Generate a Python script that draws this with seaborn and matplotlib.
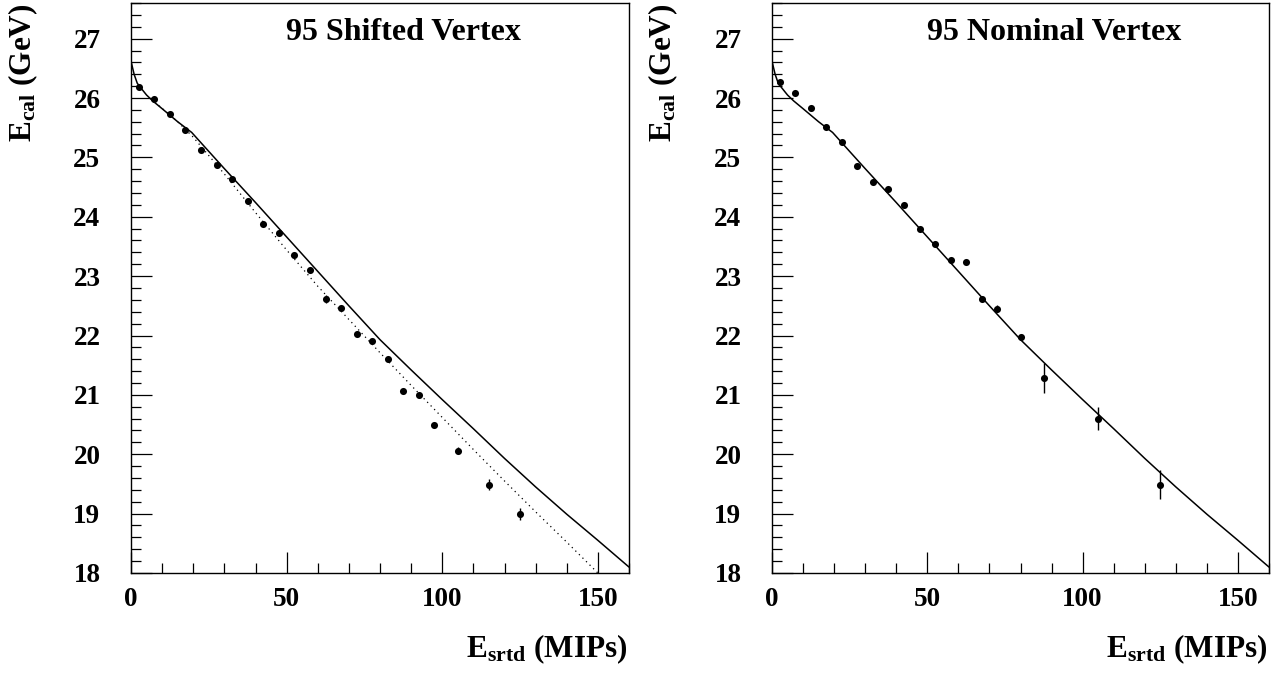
import numpy as np
import pandas as pd
import matplotlib
matplotlib.use("Agg")
import matplotlib.pyplot as plt
import seaborn as sns
from matplotlib.ticker import MultipleLocator

# ==============================================================================
# DADOS
# ==============================================================================
# painel esquerdo: 95 Shifted Vertex
shift_x = [2.5, 7.5, 12.5, 17.5, 22.5, 27.5, 32.5, 37.5, 42.5, 47.5, 52.5, 57.5,
           62.5, 67.5, 72.5, 77.5, 82.5, 87.5, 92.5, 97.5, 105, 115, 125]
shift_y = [26.18, 25.99, 25.73, 25.46, 25.13, 24.88, 24.64, 24.27, 23.88, 23.72, 23.35, 23.11,
           22.62, 22.46, 22.02, 21.91, 21.61, 21.06, 20.99, 20.49, 20.06, 19.49, 18.99]
shift_err = [0.03, 0.03, 0.03, 0.03, 0.03, 0.03, 0.03, 0.03, 0.03, 0.03, 0.03, 0.03,
             0.07, 0.03, 0.03, 0.03, 0.03, 0.04, 0.04, 0.04, 0.06, 0.1, 0.1]

# painel direito: 95 Nominal Vertex
nom_x = [2.5, 7.5, 12.5, 17.5, 22.5, 27.5, 32.5, 37.5, 42.5, 47.5, 52.5, 57.5,
         62.5, 67.5, 72.5, 80, 87.5, 105, 125]
nom_y = [26.27, 26.09, 25.84, 25.51, 25.26, 24.85, 24.59, 24.47, 24.19, 23.80, 23.54, 23.27,
         23.23, 22.62, 22.45, 21.98, 21.28, 20.60, 19.49]
nom_err = [0.03, 0.03, 0.03, 0.03, 0.03, 0.03, 0.03, 0.03, 0.03, 0.03, 0.03, 0.03,
           0.03, 0.04, 0.06, 0.04, 0.25, 0.2, 0.25]

# curva contínua (mesma nos dois painéis)
fit_x = [0, 1, 2, 3, 5, 7, 10, 15, 19.5, 25, 30, 40, 50, 60, 70, 80, 90, 100,
         110, 120, 130, 140, 150, 160]
fit_y = [26.62, 26.40, 26.25, 26.18, 26.05, 25.95, 25.82, 25.60, 25.42, 25.10, 24.81, 24.24,
         23.66, 23.08, 22.50, 21.93, 21.42, 20.92, 20.43, 19.93, 19.45, 18.99, 18.55, 18.10]

# curva pontilhada (apenas painel esquerdo)
dot_x = [9, 15, 20, 30, 40, 50, 60, 70, 80, 90, 100, 110, 120, 130, 140, 150]
dot_y = [25.87, 25.60, 25.34, 24.72, 24.07, 23.44, 22.83, 22.27, 21.71, 21.16, 20.62,
         20.08, 19.55, 19.03, 18.52, 18.00]

titulos = ["95 Shifted Vertex", "95 Nominal Vertex"]

# ==============================================================================
# ESTILO
# ==============================================================================
sns.set_style("white")
plt.rcParams['font.family'] = ['Liberation Serif', 'DejaVu Serif']
plt.rcParams['font.weight'] = 'bold'
plt.rcParams['text.color'] = 'black'
plt.rcParams['xtick.color'] = 'black'
plt.rcParams['ytick.color'] = 'black'
plt.rcParams['mathtext.fontset'] = 'custom'
plt.rcParams['mathtext.bf'] = 'Liberation Serif:bold'
plt.rcParams['mathtext.rm'] = 'Liberation Serif:bold'
plt.rcParams['mathtext.default'] = 'bf'

fig = plt.figure(figsize=(12.75, 6.73), dpi=100)
ax1 = fig.add_axes([131 / 1275, 1 - 573 / 673, 498 / 1275, 570 / 673])
ax2 = fig.add_axes([772 / 1275, 1 - 573 / 673, 497 / 1275, 570 / 673])

paineis = [
    (ax1, shift_x, shift_y, shift_err, True),
    (ax2, nom_x, nom_y, nom_err, False),
]

for i, (ax, px, py, pe, tem_pontilhado) in enumerate(paineis):
    base_fit = pd.DataFrame({'x': fit_x, 'y': fit_y})
    sns.lineplot(data=base_fit, x='x', y='y', ax=ax, color='black', linewidth=1.1,
                 estimator=None)
    if tem_pontilhado:
        base_dot = pd.DataFrame({'x': dot_x, 'y': dot_y})
        sns.lineplot(data=base_dot, x='x', y='y', ax=ax, color='black', linewidth=0.9,
                     linestyle=(0, (1, 3)), estimator=None)
    ax.errorbar(px, py, yerr=pe, fmt='none', ecolor='black', elinewidth=1.0, capsize=0)
    base_pts = pd.DataFrame({'x': px, 'y': py})
    sns.scatterplot(data=base_pts, x='x', y='y', ax=ax, color='black', s=26,
                    edgecolor='black', linewidth=0, zorder=5)

    ax.set_xlim(0, 160)
    ax.set_ylim(18, 27.6)
    ax.set_xlabel('')
    ax.set_ylabel('')
    ax.xaxis.set_major_locator(MultipleLocator(50))
    ax.xaxis.set_minor_locator(MultipleLocator(10))
    ax.yaxis.set_major_locator(MultipleLocator(1))
    ax.yaxis.set_minor_locator(MultipleLocator(0.2))
    ax.tick_params(axis='both', which='both', direction='in', bottom=True, left=True,
                   top=False, right=False, colors='black', width=0.9)
    ax.tick_params(axis='both', which='major', length=15, labelsize=19.5)
    ax.tick_params(axis='both', which='minor', length=7.5)
    ax.tick_params(axis='y', which='major', pad=22)
    ax.tick_params(axis='x', which='major', pad=10)
    for lab in ax.get_xticklabels() + ax.get_yticklabels():
        lab.set_fontweight('bold')
    for sp in ax.spines.values():
        sp.set_visible(True)
        sp.set_color('black')
        sp.set_linewidth(1.0)

    ax.text(0.312, 0.935, titulos[i], transform=ax.transAxes, ha='left', va='baseline',
            fontsize=23, fontweight='bold', color='black')

# rótulos dos eixos
for xl, xr in [(23, 628), (663, 1268)]:
    fig.text(xl / 1275, 1 - 3 / 673, r'$E_{cal}$ (GeV)', rotation=90, ha='center',
             va='top', fontsize=22.5, fontweight='bold', color='black')
    fig.text(xr / 1275, 1 - 657 / 673, r'$E_{srtd}$ (MIPs)', ha='right', va='baseline',
             fontsize=22.5, fontweight='bold', color='black')

plt.savefig('out.png', dpi=100)
